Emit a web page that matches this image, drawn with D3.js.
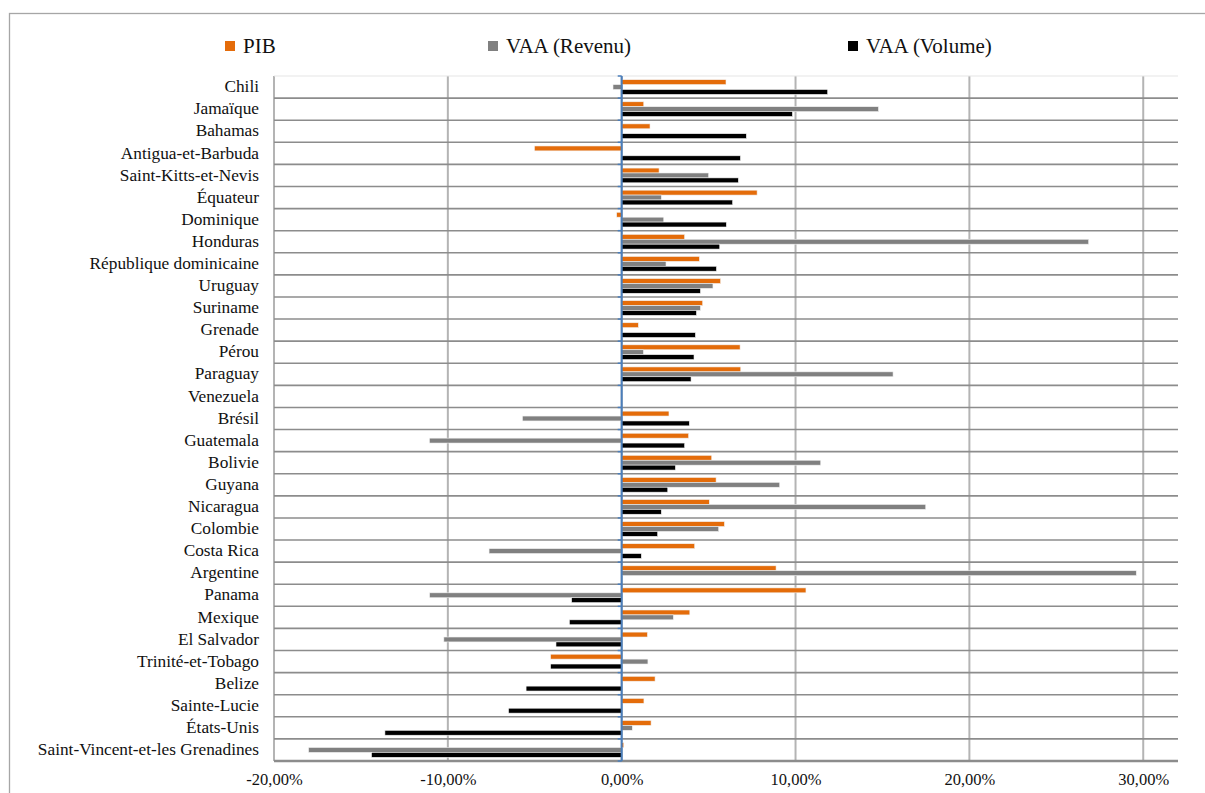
<!DOCTYPE html>
<html><head><meta charset="utf-8">
<script src="https://cdn.jsdelivr.net/npm/d3@7"></script>
<style>html,body{margin:0;padding:0;background:#fff;overflow:hidden}</style>
</head><body>
<svg id="chart" width="1205" height="793"></svg>
<script>
const categories = ["Chili","Jamaïque","Bahamas","Antigua-et-Barbuda","Saint-Kitts-et-Nevis","Équateur","Dominique","Honduras","République dominicaine","Uruguay","Suriname","Grenade","Pérou","Paraguay","Venezuela","Brésil","Guatemala","Bolivie","Guyana","Nicaragua","Colombie","Costa Rica","Argentine","Panama","Mexique","El Salvador","Trinité-et-Tobago","Belize","Sainte-Lucie","États-Unis","Saint-Vincent-et-les Grenadines"];
const seriesNames = ["PIB","VAA (Revenu)","VAA (Volume)"];
const pib =    [6.0, 1.27, 1.63, -5.02, 2.15, 7.79, -0.29, 3.62, 4.47, 5.69, 4.66, 0.96, 6.81, 6.85, null, 2.72, 3.85, 5.18, 5.43, 5.04, 5.91, 4.20, 8.88, 10.6, 3.92, 1.48, -4.09, 1.92, 1.28, 1.69, 0.12];
const vaaRev = [-0.5, 14.77, null, null, 5.0, 2.28, 2.42, 26.86, 2.55, 5.25, 4.53, null, 1.25, 15.61, null, -5.71, -11.06, 11.45, 9.09, 17.49, 5.58, -7.63, 29.6, -11.05, 2.97, -10.23, 1.51, null, null, 0.61, -18.01];
const vaaVol = [11.85, 9.82, 7.17, 6.83, 6.71, 6.38, 6.02, 5.64, 5.45, 4.53, 4.30, 4.24, 4.16, 3.99, null, 3.89, 3.62, 3.09, 2.65, 2.28, 2.07, 1.13, null, -2.88, -3.01, -3.78, -4.09, -5.50, -6.51, -13.62, -14.39];
const xTicks = [-20, -10, 0, 10, 20, 30];
const colors = ["#E46C0A", "#808080", "#000000"];

const seriesValues = [pib, vaaRev, vaaVol];
const svg = d3.select("#chart");
const plot = {left: 274, right: 1178, top: 76, bottom: 761};
const font = "Liberation Serif";

// frame
svg.append("rect").attr("x", 9.5).attr("y", 13.5).attr("width", 1400).attr("height", 1000)
  .attr("fill", "none").attr("stroke", "#a6a6a6").attr("stroke-width", 1.3);

const x = d3.scaleLinear().domain([-20, 32]).range([plot.left, plot.right]);
const y = d3.scaleBand().domain(categories).range([plot.top, plot.bottom]).padding(0);
const ys = d3.scaleBand().domain(seriesNames).range([0, y.bandwidth()]).paddingInner(0).paddingOuter(0.75);

// vertical gridlines
svg.append("g").selectAll("line").data(xTicks).join("line")
  .attr("x1", d => x(d)).attr("x2", d => x(d))
  .attr("y1", plot.top).attr("y2", plot.bottom)
  .attr("stroke", "#b4b4b4").attr("stroke-width", 2);

// horizontal category gridlines
const bounds = categories.map(c => y(c)).concat([plot.bottom]);
svg.append("g").selectAll("line").data(bounds.slice(1, -1)).join("line")
  .attr("x1", plot.left).attr("x2", plot.right)
  .attr("y1", d => d).attr("y2", d => d)
  .attr("stroke", "#8c8c8c").attr("stroke-width", 1.6);
svg.append("line").attr("x1", plot.left).attr("x2", plot.right)
  .attr("y1", plot.top).attr("y2", plot.top).attr("stroke", "#e6e6e6").attr("stroke-width", 1.2);

// bars
const barData = [];
categories.forEach((c, i) => seriesNames.forEach((s, j) => {
  const v = seriesValues[j][i];
  if (v !== null) barData.push({c, s, v, j});
}));
svg.append("g").selectAll("rect").data(barData).join("rect")
  .attr("x", d => Math.min(x(0), x(d.v)))
  .attr("width", d => Math.abs(x(d.v) - x(0)))
  .attr("y", d => y(d.c) + ys(d.s))
  .attr("height", ys.bandwidth())
  .attr("fill", d => colors[d.j])
  .attr("stroke", "#f2f2f2").attr("stroke-width", 0.6);

// bottom axis line
svg.append("line").attr("x1", plot.left).attr("x2", plot.right)
  .attr("y1", plot.bottom).attr("y2", plot.bottom)
  .attr("stroke", "#8c8c8c").attr("stroke-width", 2.5);

// x axis labels
const xAxis = d3.axisBottom(x).tickValues(xTicks).tickSize(0).tickPadding(10)
  .tickFormat(d => d3.format(".2f")(d).replace(".", ",").replace("−", "-") + "%");
const gx = svg.append("g").attr("transform", `translate(0,${plot.bottom + 2})`).call(xAxis);
gx.select(".domain").remove();
gx.selectAll("text").attr("font-family", font).attr("font-size", 16.5).attr("fill", "#111");

// zero category axis (blue) with ticks
svg.append("g").selectAll("line").data(bounds).join("line")
  .attr("x1", x(0) - 4).attr("x2", x(0))
  .attr("y1", d => d).attr("y2", d => d)
  .attr("stroke", "#4a7ebb").attr("stroke-width", 1.5);
svg.append("line").attr("x1", x(0)).attr("x2", x(0))
  .attr("y1", plot.top).attr("y2", plot.bottom)
  .attr("stroke", "#4a7ebb").attr("stroke-width", 2);

// category labels
svg.append("g").selectAll("text").data(categories).join("text")
  .attr("x", 259).attr("y", d => y(d) + y.bandwidth() / 2)
  .attr("dy", "0.3em").attr("text-anchor", "end")
  .attr("font-family", font).attr("font-size", 17.3).attr("fill", "#111")
  .text(d => d);

// legend
const legendX = [225, 488, 848];
const lg = svg.append("g").selectAll("g").data(seriesNames).join("g")
  .attr("transform", (d, i) => `translate(${legendX[i]},46)`);
lg.append("rect").attr("x", 0).attr("y", -5).attr("width", 10).attr("height", 10)
  .attr("fill", (d, i) => colors[i]);
lg.append("text").attr("x", 18).attr("y", 0).attr("dy", "0.33em")
  .attr("font-family", font).attr("font-size", 21).attr("fill", "#111").text(d => d);
</script>
</body></html>
